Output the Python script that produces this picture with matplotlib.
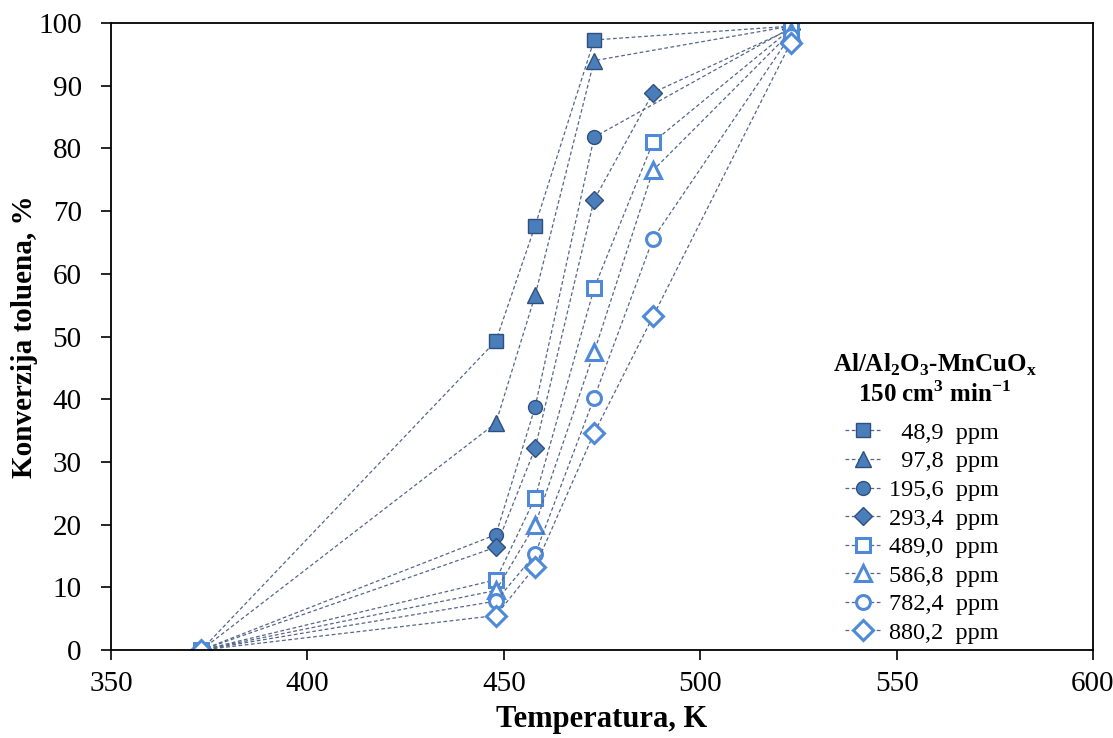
import numpy as np
import matplotlib.pyplot as plt

plt.rcParams['font.family'] = ['Liberation Serif', 'DejaVu Serif']
plt.rcParams['mathtext.fontset'] = 'custom'
plt.rcParams['mathtext.rm'] = 'Liberation Serif'
plt.rcParams['mathtext.bf'] = 'Liberation Serif:bold'

# temperatures, K
temp5 = [373, 448, 458, 473, 523]
temp6 = [373, 448, 458, 473, 488, 523]

labels = ['  48,9  ppm', '  97,8  ppm', '195,6  ppm', '293,4  ppm',
          '489,0  ppm', '586,8  ppm', '782,4  ppm', '880,2  ppm']

conv_489 = [0, 49.3, 67.7, 97.3, 99.5]
conv_978 = [0, 36.2, 56.6, 94.0, 99.5]
conv_1956 = [0, 18.4, 38.8, 81.8, 99.2]
conv_2934 = [0, 16.4, 32.2, 71.8, 88.9, 99.0]
conv_4890 = [0, 11.2, 24.3, 57.7, 81.0, 99.0]
conv_5868 = [0, 9.5, 20.0, 47.5, 76.5, 98.5]
conv_7824 = [0, 7.8, 15.3, 40.2, 65.6, 98.0]
conv_8802 = [0, 5.5, 13.3, 34.6, 53.2, 96.8]

series = [(temp5, conv_489), (temp5, conv_978), (temp5, conv_1956),
          (temp6, conv_2934), (temp6, conv_4890), (temp6, conv_5868),
          (temp6, conv_7824), (temp6, conv_8802)]
markers = ['s', '^', 'o', 'D', 's', '^', 'o', 'D']
sizes = [10, 11, 10, 9.5, 10, 11, 10, 10.5]

fill_c = '#4a7ebb'
edge_c = '#2f4f7f'
open_c = '#4f8ad8'
line_c = '#55668a'

fig = plt.figure(figsize=(11.13, 7.38), dpi=100)
ax = fig.add_axes([0.0997, 0.1192, 0.8823, 0.8496])

for i, ((x, y), m, lab) in enumerate(zip(series, markers, labels)):
    if i < 4:
        kw = dict(markerfacecolor=fill_c, markeredgecolor=edge_c, markeredgewidth=1.0)
    else:
        kw = dict(markerfacecolor='white', markeredgecolor=open_c, markeredgewidth=2.2)
    ax.plot(x, y, linestyle=(0, (3, 2)), color=line_c, linewidth=0.9,
            marker=m, markersize=sizes[i], label=lab, **kw)

ax.set_xlim(350, 600)
ax.set_ylim(0, 100)
ax.set_xticks(np.arange(350, 601, 50))
ax.set_yticks(np.arange(0, 101, 10))
ax.tick_params(direction='out', length=7, width=1.2, labelsize=21)
ax.tick_params(axis='x', pad=8)
ax.tick_params(axis='y', pad=14)
for s in ax.spines.values():
    s.set_linewidth(1.3)

ax.set_xlabel('Temperatura, K', fontsize=22, fontweight='bold', labelpad=6)
ax.set_ylabel('Konverzija toluena, %', fontsize=21, fontweight='bold', labelpad=0)

leg = ax.legend(loc='upper left', bbox_to_anchor=(0.730, 0.391), frameon=False,
                fontsize=17.5, handlelength=1.5, handletextpad=0.3,
                labelspacing=0.27, borderpad=0.2)

fig.text(935 / 1113, 1 - 379 / 738,
         'Al/Al$_\\mathbf{2}$O$_\\mathbf{3}$-MnCuO$_\\mathbf{x}$\n150 cm$^\\mathbf{3}$ min$^\\mathbf{-1}$',
         fontsize=18, fontweight='bold', ha='center', va='center',
         multialignment='center', linespacing=1.15)

fig.savefig('out.png', dpi=100)
